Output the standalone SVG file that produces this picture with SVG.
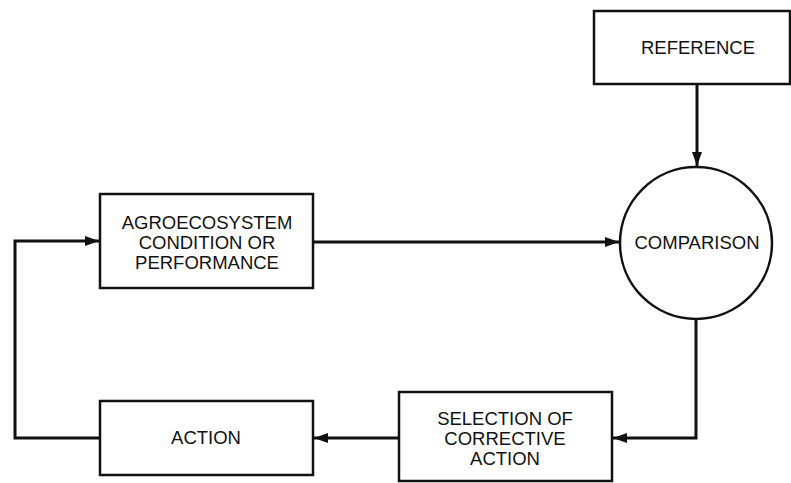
<svg xmlns="http://www.w3.org/2000/svg" width="791" height="483" viewBox="0 0 791 483">
<style>
.box{fill:#fff;stroke:#111;stroke-width:2.5}
.t{font-family:"Liberation Sans",Arial,sans-serif;font-size:18.5px;fill:#111;text-anchor:middle;dominant-baseline:central}
.c{fill:none;stroke:#111;stroke-width:3}
</style>
<defs>
<marker id="ah" viewBox="0 0 14 10" refX="14" refY="5" markerWidth="14" markerHeight="10" markerUnits="userSpaceOnUse" orient="auto">
<path d="M0,0 L14,5 L0,10 Z" fill="#111"/>
</marker>
</defs>
<g id="connectors">
<path class="c" d="M697,84 L697,166" marker-end="url(#ah)"/>
<path class="c" d="M313,242 L619,242" marker-end="url(#ah)"/>
<path class="c" d="M696,320 L696,438 L613,438" marker-end="url(#ah)"/>
<path class="c" d="M399,438 L314,438" marker-end="url(#ah)"/>
<path class="c" d="M100,438 L15,438 L15,241 L99,241" marker-end="url(#ah)"/>
</g>
<g id="reference">
<rect class="box" x="594" y="11" width="196" height="73"/>
<text class="t" x="698" y="47">REFERENCE</text>
</g>
<g id="comparison">
<circle class="box" cx="696" cy="243" r="76" stroke-width="2.2"/>
<text class="t" x="697" y="242">COMPARISON</text>
</g>
<g id="agroecosystem">
<rect class="box" x="100" y="194" width="213" height="94"/>
<text class="t" x="207" y="222">AGROECOSYSTEM</text>
<text class="t" x="207" y="242">CONDITION OR</text>
<text class="t" x="207" y="262">PERFORMANCE</text>
</g>
<g id="selection">
<rect class="box" x="399" y="392" width="213" height="89"/>
<text class="t" x="505" y="418">SELECTION OF</text>
<text class="t" x="505" y="438">CORRECTIVE</text>
<text class="t" x="505" y="458">ACTION</text>
</g>
<g id="action">
<rect class="box" x="100" y="401" width="213" height="74"/>
<text class="t" x="206" y="437">ACTION</text>
</g>
</svg>
